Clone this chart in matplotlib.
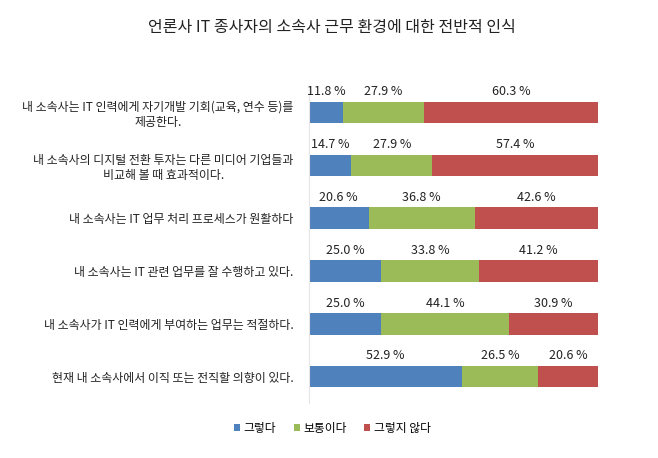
import matplotlib.pyplot as plt
import numpy as np

plt.rcParams['font.family'] = ['Noto Sans CJK KR', 'DejaVu Sans']

# 문항
categories = [
    '내 소속사는 IT 인력에게 자기개발 기회(교육, 연수 등)를\n제공한다.',
    '내 소속사의 디지털 전환 투자는 다른 미디어 기업들과\n비교해 볼 때 효과적이다.',
    '내 소속사는 IT 업무 처리 프로세스가 원활하다',
    '내 소속사는 IT 관련 업무를 잘 수행하고 있다.',
    '내 소속사가 IT 인력에게 부여하는 업무는 적절하다.',
    '현재 내 소속사에서 이직 또는 전직할 의향이 있다.',
]
series_names = ['그렇다', '보통이다', '그렇지 않다']
yes = [11.8, 14.7, 20.6, 25.0, 25.0, 52.9]
neutral = [27.9, 27.9, 36.8, 33.8, 44.1, 26.5]
no = [60.3, 57.4, 42.6, 41.2, 30.9, 20.6]
colors = ['#4F81BD', '#9BBB59', '#C0504D']

fig = plt.figure(figsize=(6.58, 4.58), dpi=100)
ax = fig.add_axes([0.4696, 0.120, 0.4392, 0.692])

y = np.arange(len(categories))
left = np.zeros(len(categories))
for vals, name, c in zip([yes, neutral, no], series_names, colors):
    vals = np.array(vals)
    ax.barh(y, vals, left=left, height=0.41, color=c, label=name)
    for yi, l, v in zip(y, left, vals):
        ax.text(l + v / 2, yi - 0.27, f'{v:.1f} %', ha='center', va='bottom',
                fontsize=9, color='#222222')
    left += vals

ax.set_xlim(0, 100)
ax.set_ylim(5.5, -0.5)
ax.set_xticks([])
ax.set_yticks(y)
ax.set_yticklabels(categories, fontsize=8.6, color='#222222')
for t in ax.get_yticklabels():
    t.set_multialignment('center')
ax.tick_params(axis='y', length=0, pad=11)
for s in ['top', 'right', 'bottom']:
    ax.spines[s].set_visible(False)
ax.spines['left'].set_color('#e6e6e6')

fig.text(0.505, 0.94, '언론사 IT 종사자의 소속사 근무 환경에 대한 전반적 인식',
         ha='center', va='center', fontsize=11.5, color='#222222')

ax.legend(loc='center', bbox_to_anchor=(0.505, 0.065), bbox_transform=fig.transFigure,
          ncol=3, frameon=False, fontsize=8.5, handlelength=0.5, handleheight=0.5,
          handletextpad=0.3, columnspacing=1.5)

fig.savefig('out.png', dpi=100)
